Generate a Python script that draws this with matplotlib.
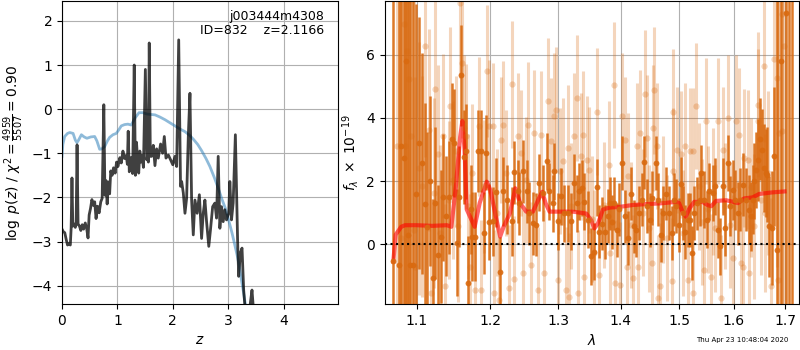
import numpy as np
import matplotlib
matplotlib.use('Agg')
import matplotlib.pyplot as plt
from matplotlib.ticker import NullLocator

# --- left panel: redshift fit ---
z_chi = [0.000, 0.025, 0.050, 0.075, 0.100, 0.125, 0.150, 0.165, 0.180, 0.195,
         0.215, 0.240, 0.255, 0.272, 0.290, 0.315, 0.340, 0.365, 0.390, 0.420,
         0.445, 0.470, 0.490, 0.515, 0.540, 0.565, 0.590, 0.615, 0.640, 0.670,
         0.700, 0.725, 0.755, 0.775, 0.795, 0.815, 0.835, 0.860, 0.880, 0.905,
         0.930, 0.960, 0.985, 1.010, 1.044, 1.070, 1.100, 1.130, 1.160, 1.180,
         1.195, 1.215, 1.245, 1.275, 1.304, 1.325, 1.345, 1.365, 1.385, 1.405,
         1.425, 1.445, 1.470, 1.505, 1.530, 1.550, 1.560, 1.575, 1.595, 1.617,
         1.648, 1.678, 1.708, 1.738, 1.780, 1.816, 1.847, 1.877, 1.920, 1.961,
         2.000, 2.040, 2.070, 2.107, 2.140, 2.160, 2.190, 2.220, 2.250, 2.280,
         2.310, 2.340, 2.370, 2.400, 2.440, 2.480, 2.520, 2.550, 2.580, 2.610,
         2.650, 2.680, 2.720, 2.760, 2.790, 2.820, 2.850, 2.880, 2.910, 2.940,
         2.970, 3.010, 3.030, 3.060, 3.090, 3.130, 3.170, 3.190, 3.220, 3.250,
         3.280, 3.310, 3.360, 3.400, 3.430, 3.460, 3.520]
logp = [-2.72, -2.78, -2.80, -2.95, -3.08, -3.05, -3.08, -2.70, -1.56, -2.65,
        -2.60, -2.68, -2.62, -0.81, -2.60, -2.65, -2.75, -2.62, -2.72, -2.58,
        -2.70, -2.92, -2.40, -2.25, -2.05, -2.18, -2.10, -2.48, -2.20, -2.35,
        -2.10, -2.02, 0.10, -1.95, -1.62, -2.15, -1.65, -1.92, -1.40, -1.50,
        -1.33, -1.45, -1.20, -1.30, -1.10, -1.22, -0.95, -1.12, -1.05, -1.25,
        -0.50, -1.42, -1.10, -1.46, 1.00, -1.50, -0.75, -1.15, -1.45, -0.95,
        -1.20, -1.05, -1.32, 0.90, -1.15, -1.00, -1.20, 1.50, -1.07, -1.07,
        -0.82, -1.28, -0.90, -1.11, -0.79, -1.00, -0.62, -1.11, -1.04, -1.15,
        -1.26, -1.07, -1.30, 1.57, -1.75, -1.64, -1.90, -2.36, -2.02, -0.62,
        0.36, -2.06, -2.85, -2.06, -2.36, -1.94, -2.93, -2.36, -2.06, -2.55,
        -3.11, -2.74, -2.21, -2.13, -2.47, -1.07, -2.70, -2.21, -2.55, -2.28,
        -2.51, -2.36, -1.64, -2.51, -2.13, -0.58, -2.96, -3.79, -3.26, -3.15,
        -4.10, -4.60, -5.00, -4.40, -4.10, -4.60, -5.50]

z_prior = [0.000, 0.015, 0.048, 0.100, 0.140, 0.200, 0.240, 0.270, 0.300, 0.350,
           0.400, 0.450, 0.520, 0.590, 0.630, 0.680, 0.720, 0.770, 0.820, 0.860,
           0.920, 0.980, 1.030, 1.070, 1.130, 1.190, 1.250, 1.320, 1.390, 1.460,
           1.530, 1.600, 1.680, 1.770, 1.860, 1.950, 2.040, 2.130, 2.220, 2.300,
           2.370, 2.450, 2.520, 2.600, 2.670, 2.750, 2.820, 2.890, 2.950, 3.010,
           3.070, 3.120, 3.160, 3.200, 3.230, 3.270, 3.310, 3.350, 3.400]
prior = [-1.07, -0.80, -0.62, -0.55, -0.53, -0.55, -0.70, -0.76, -0.70, -0.58,
         -0.63, -0.66, -0.63, -0.62, -0.72, -0.91, -0.90, -0.85, -0.72, -0.64,
         -0.58, -0.55, -0.46, -0.38, -0.35, -0.34, -0.36, -0.20, -0.08, -0.08,
         -0.11, -0.12, -0.13, -0.18, -0.24, -0.31, -0.38, -0.45, -0.51, -0.59,
         -0.68, -0.80, -0.94, -1.12, -1.30, -1.55, -1.79, -2.05, -2.25, -2.52,
         -2.81, -3.08, -3.30, -3.55, -3.80, -4.10, -4.42, -4.80, -5.30]

# --- right panel: spectrum ---
dark_wave = [1.0701, 1.0770, 1.0800, 1.0830, 1.0860, 1.0890, 1.0910, 1.0950, 1.0990, 1.1034,
             1.1065, 1.1108, 1.1139, 1.1175, 1.1209, 1.1240, 1.1275, 1.1315, 1.1351, 1.1390,
             1.1432, 1.1472, 1.1499, 1.1531, 1.1560, 1.1590, 1.1631, 1.1658, 1.1690, 1.1723,
             1.1750, 1.1783, 1.1824, 1.1870, 1.1908, 1.1946, 1.1984, 1.2036, 1.2083, 1.2145,
             1.2188, 1.2240, 1.2308, 1.2348, 1.2396, 1.2420, 1.2469, 1.2532, 1.2568, 1.2617,
             1.2666, 1.2717, 1.2767, 1.2831, 1.2868, 1.2918, 1.2944, 1.3005, 1.3045, 1.3097,
             1.3149, 1.3200, 1.3242, 1.3293, 1.3331, 1.3368, 1.3410, 1.3462, 1.3515, 1.3569,
             1.3611, 1.3650, 1.3700, 1.3746, 1.3790, 1.3828, 1.3860, 1.3893, 1.3936, 1.3975,
             1.4018, 1.4074, 1.4118, 1.4168, 1.4224, 1.4258, 1.4314, 1.4353, 1.4398, 1.4438,
             1.4496, 1.4523, 1.4592, 1.4638, 1.4678, 1.4725, 1.4772, 1.4829, 1.4870, 1.4912,
             1.4947, 1.4990, 1.5028, 1.5063, 1.5106, 1.5152, 1.5195, 1.5224, 1.5273, 1.5327,
             1.5376, 1.5394, 1.5454, 1.5496, 1.5545, 1.5606, 1.5656, 1.5698, 1.5743, 1.5791,
             1.5842, 1.5885, 1.5930, 1.5979, 1.6030, 1.6073, 1.6119, 1.6168, 1.6233, 1.6283,
             1.6329, 1.6360, 1.6393, 1.6426, 1.6476, 1.6509, 1.6542, 1.6574, 1.6621, 1.6652,
             1.6685, 1.6739, 1.6784, 1.6850, 1.6917, 1.7030, 1.7084, 1.7139]
dark_flux = [-0.53, -0.65, 3.10, 2.73, 5.80, 0.30, -0.65, -0.67, 1.60, 3.20,
             2.56, 1.27, 0.55, 2.00, -1.06, 1.30, -0.34, 0.24, 1.48, 0.90,
             1.48, 3.32, 3.20, 0.05, 1.50, 5.35, 2.76, 2.94, -1.23, 1.10,
             0.24, 0.24, 2.94, 2.94, 0.34, 2.90, 0.69, 0.72, 1.64, -0.87,
             1.67, 1.41, 0.72, 2.28, 1.67, 1.30, 2.31, 1.67, 0.98, 0.66,
             0.61, 1.94, 1.62, 2.63, 1.67, 1.30, 2.31, 0.72, 1.51, 0.98,
             0.98, 0.72, 1.94, 1.30, 1.67, 1.78, 1.35, 0.77, -0.39, -0.24,
             1.80, 0.40, 0.65, 0.39, 0.90, 1.29, 0.70, 1.29, 0.45, 1.10,
             2.57, 0.88, 0.19, 1.60, 0.56, 0.45, 0.98, 1.41, 2.59, 1.20,
             0.77, 1.46, 2.57, 1.41, 0.30, 0.98, 1.60, 0.98, 0.35, 1.41,
             1.20, 0.60, 1.91, 0.98, 0.39, 0.77, 0.77, -0.29, 0.98, 1.29,
             1.41, 2.25, 1.41, 0.77, 1.67, 1.62, 1.83, 0.45, -0.07, 1.83,
             0.51, 2.57, 1.20, 1.72, 1.41, 0.98, 1.41, 1.88, 1.41, 1.09,
             0.88, 1.41, 1.99, 2.36, 2.68, 3.33, 2.99, 2.41, 2.25, 2.20,
             0.56, 0.51, 2.78, -0.20, 5.80, 7.31, 9.50, -4.00]
dark_err = [12, 12, 12, 12, 12, 12, 10, 9, 6, 4.0,
            3.5, 3.2, 3.0, 2.7, 2.5, 2.4, 2.2, 2.1, 2.0, 1.9,
            1.8, 1.8, 1.7, 1.7, 1.6, 1.6, 1.5, 1.5, 1.5, 1.4,
            1.4, 1.4, 1.3, 1.3, 1.3, 1.2, 1.2, 1.1, 1.1, 1.1,
            1.1, 1.1, 1.1, 1.0, 1.0, 1.0, 1.0, 1.0, 1.0, 1.0,
            1.0, 0.9, 0.9, 0.9, 0.9, 0.9, 0.9, 0.9, 0.9, 0.9,
            0.9, 0.9, 0.9, 0.9, 0.9, 0.9, 0.9, 0.9, 0.9, 0.9,
            0.9, 0.85, 0.85, 0.85, 0.85, 0.85, 0.85, 0.85, 0.85, 0.85,
            0.85, 0.85, 0.85, 0.85, 0.85, 0.85, 0.85, 0.85, 0.85, 0.85,
            0.85, 0.85, 0.85, 0.85, 0.85, 0.85, 0.85, 0.85, 0.85, 0.85,
            0.85, 0.85, 0.85, 0.85, 0.85, 0.85, 0.85, 0.85, 0.85, 0.85,
            0.85, 0.9, 0.9, 0.9, 0.9, 0.9, 0.9, 0.9, 0.9, 0.9,
            0.9, 0.9, 0.95, 0.95, 0.95, 1.0, 1.0, 1.0, 1.0, 1.1,
            1.1, 1.1, 1.2, 1.2, 1.3, 1.3, 1.3, 1.4, 1.4, 1.5,
            1.6, 1.8, 2.2, 12, 12, 12, 12, 12]

light_wave = [1.0750, 1.0800, 1.0832, 1.0845, 1.0875, 1.0896, 1.0931, 1.0961, 1.0982, 1.1030,
              1.1069, 1.1113, 1.1156, 1.1191, 1.1222, 1.1244, 1.1280, 1.1311, 1.1347, 1.1378,
              1.1423, 1.1445, 1.1477, 1.1522, 1.1549, 1.1581, 1.1603, 1.1627, 1.1659, 1.1686,
              1.1718, 1.1741, 1.1787, 1.1834, 1.1871, 1.1904, 1.1951, 1.1984, 1.2036, 1.2059,
              1.2100, 1.2130, 1.2154, 1.2178, 1.2226, 1.2274, 1.2308, 1.2337, 1.2396, 1.2444,
              1.2469, 1.2518, 1.2553, 1.2592, 1.2642, 1.2691, 1.2741, 1.2792, 1.2842, 1.2893,
              1.2943, 1.2969, 1.2995, 1.3035, 1.3071, 1.3123, 1.3149, 1.3174, 1.3200, 1.3242,
              1.3294, 1.3315, 1.3357, 1.3383, 1.3409, 1.3452, 1.3489, 1.3530, 1.3569, 1.3611,
              1.3638, 1.3719, 1.3800, 1.3827, 1.3892, 1.3909, 1.3991, 1.4019, 1.4074, 1.4102,
              1.4129, 1.4170, 1.4213, 1.4269, 1.4297, 1.4325, 1.4370, 1.4410, 1.4438, 1.4480,
              1.4524, 1.4552, 1.4569, 1.4609, 1.4638, 1.4667, 1.4725, 1.4790, 1.4870, 1.4887,
              1.4899, 1.4958, 1.5029, 1.5076, 1.5106, 1.5165, 1.5195, 1.5243, 1.5255, 1.5303,
              1.5363, 1.5420, 1.5454, 1.5484, 1.5530, 1.5576, 1.5606, 1.5650, 1.5699, 1.5760,
              1.5791, 1.5840, 1.5885, 1.5930, 1.5978, 1.6041, 1.6105, 1.6136, 1.6168, 1.6200,
              1.6264, 1.6283, 1.6340, 1.6392, 1.6457, 1.6476, 1.6522, 1.6574, 1.6610, 1.6653,
              1.6718, 1.6784, 1.6831, 1.6870, 1.6884, 1.6937, 1.6950, 1.6984]
light_flux = [3.10, 0.20, 6.96, 3.10, 6.12, 5.22, 3.42, 0.45, -0.71, 2.40,
              1.83, 6.27, 3.63, -1.56, 1.62, 4.90, 2.87, 0.35, 3.42, -1.34,
              1.41, 4.37, 2.04, 2.94, 0.56, 7.65, 5.75, 3.68, 3.42, 1.20,
              -0.71, 2.25, -1.45, 3.73, -1.45, 1.83, 5.48, 3.73, 3.73, -1.56,
              1.00, -1.77, 3.31, 3.79, 2.25, -1.40, 5.06, -1.11, 3.42, 2.89,
              -0.92, 2.04, 3.76, -0.66, 3.52, -1.45, 3.47, -0.92, 4.53, 3.26,
              4.05, 4.26, -1.13, 2.31, 2.62, -1.45, 3.05, -1.66, 1.20, 3.42,
              4.63, -1.56, 2.78, 3.47, -1.03, 2.68, 2.36, 0.80, -0.29, 4.20,
              -0.97, 1.25, 2.52, -0.29, 5.03, -1.24, -1.29, 4.05, 3.31, -0.71,
              2.15, 0.60, -1.08, 3.10, -0.71, 3.52, 1.00, 4.77, 3.36, 0.50,
              -0.60, 3.68, 4.87, 3.10, -1.71, -1.34, 1.41, 0.20, -1.18, 4.19,
              2.31, 2.99, 2.84, 0.35, 3.10, -1.13, 2.94, 2.94, -1.56, 4.37,
              1.83, 0.70, -0.82, 3.89, 1.10, -1.03, 1.67, 0.50, 3.89, -1.71,
              2.99, 1.20, 4.00, 0.60, -0.44, 3.89, 3.47, -0.60, -0.71, 2.73,
              2.68, -0.92, 1.80, 0.56, 4.42, 3.89, 1.41, 5.64, 1.00, 2.25,
              -1.34, 5.85, 5.27, -1.13, 3.52, 7.28, 3.57, 6.27]
light_err = [12, 12, 12, 12, 12, 12, 10, 8, 6, 4,
             3.5, 3.5, 3.2, 3.0, 3.0, 3.0, 2.8, 2.8, 2.6, 2.6,
             2.5, 2.5, 2.5, 2.4, 2.4, 2.4, 2.4, 2.3, 2.3, 2.3,
             2.3, 2.2, 2.2, 2.2, 2.2, 2.1, 2.1, 2.1, 2.0, 2.0,
             2.0, 2.0, 2.0, 2.0, 2.0, 2.0, 2.0, 2.0, 2.0, 2.0,
             2.0, 2.0, 2.0, 2.0, 2.0, 2.0, 2.0, 2.0, 2.0, 2.0,
             2.0, 2.0, 2.0, 2.0, 2.0, 2.0, 2.0, 2.0, 2.0, 2.0,
             2.0, 2.0, 2.0, 2.0, 2.0, 2.0, 2.0, 2.0, 2.0, 2.0,
             2.0, 2.0, 2.0, 2.0, 2.0, 2.0, 2.0, 2.0, 2.0, 2.0,
             2.0, 2.0, 2.0, 2.0, 2.0, 2.0, 2.0, 2.0, 2.0, 2.0,
             2.0, 2.0, 2.0, 2.0, 2.0, 2.0, 2.0, 2.0, 2.0, 2.0,
             2.0, 2.0, 2.0, 2.0, 2.0, 2.0, 2.0, 2.0, 2.0, 2.0,
             2.0, 2.0, 2.0, 2.0, 2.0, 2.0, 2.0, 2.0, 2.0, 2.0,
             2.0, 2.0, 2.0, 2.0, 2.0, 2.1, 2.1, 2.1, 2.1, 2.2,
             2.2, 2.2, 2.2, 2.3, 2.3, 2.3, 2.4, 2.4, 2.5, 2.6,
             2.8, 3.5, 6, 12, 12, 12, 12, 12]

model_wave = [1.0700, 1.0730, 1.0800, 1.0850, 1.1000, 1.1200, 1.1400, 1.1460, 1.1520, 1.1580,
              1.1610, 1.1640, 1.1670, 1.1730, 1.1780, 1.1850, 1.1950, 1.2000, 1.2070, 1.2140,
              1.2190, 1.2280, 1.2360, 1.2430, 1.2520, 1.2620, 1.2710, 1.2760, 1.2810, 1.2870,
              1.3020, 1.3230, 1.3440, 1.3520, 1.3570, 1.3630, 1.3710, 1.3820, 1.3980, 1.4200,
              1.4430, 1.4660, 1.4950, 1.5000, 1.5060, 1.5120, 1.5180, 1.5270, 1.5420, 1.5510,
              1.5580, 1.5670, 1.5860, 1.5990, 1.6080, 1.6200, 1.6360, 1.6490, 1.6750, 1.6990]
model_flux = [-0.55, 0.30, 0.55, 0.60, 0.60, 0.58, 0.60, 0.55, 1.80, 3.40,
              3.90, 3.00, 1.10, 0.80, 0.55, 1.30, 1.98, 1.72, 0.97, 0.24,
              0.55, 0.97, 1.77, 1.30, 1.03, 1.03, 1.45, 1.66, 1.30, 1.03,
              1.03, 1.03, 0.97, 0.76, 0.50, 0.66, 1.10, 1.16, 1.18, 1.24,
              1.27, 1.29, 1.34, 1.30, 1.03, 0.87, 1.12, 1.34, 1.34, 1.24,
              1.20, 1.37, 1.39, 1.34, 1.30, 1.45, 1.48, 1.59, 1.64, 1.67]

wave_ticks = [1.1, 1.2, 1.3, 1.4, 1.5, 1.6, 1.7]

orange = '#d96a10'

fig = plt.figure(figsize=(8, 3.5), dpi=100)

# left: p(z)
ax = fig.add_axes([0.0775, 0.131, 0.3455, 0.866])
ax.plot(z_prior, prior, color='tab:blue', alpha=0.5, lw=2)
ax.plot(z_chi, logp, color='k', alpha=0.75, lw=2)
ax.set_xlim(0, 4.99)
ax.set_ylim(-4.42, 2.45)
ax.set_xticks([0, 1, 2, 3, 4])
ax.grid(True)
ax.set_xlabel(r'$z$')
ax.set_ylabel(r'$\log\ p(z)$' + ' / ' + r'$\chi^2=\frac{4959}{5507}=0.90$')
ax.text(0.95, 0.97, 'j003444m4308\nID=832    z=2.1166', transform=ax.transAxes,
        ha='right', va='top', fontsize=9, linespacing=1.1)

# right: spectrum
ax2 = fig.add_axes([0.481, 0.131, 0.5175, 0.866])
ax2.errorbar(light_wave, light_flux, light_err, color=orange, alpha=0.28,
             marker='o', ms=4.5, linestyle='None', elinewidth=2.2, mec='none')
ax2.errorbar(dark_wave, dark_flux, dark_err, color=orange, alpha=0.9,
             marker='o', ms=4.2, linestyle='None', elinewidth=1.8, mec='none')
ax2.plot(model_wave, model_flux, color='r', alpha=0.6, lw=3)
ax2.axhline(0, color='k', linestyle=':', lw=1.5)

ax2.set_xscale('log')
ax2.set_xlim(1.0593, 1.728)
ax2.set_ylim(-1.9, 7.7)
ax2.set_xticks(wave_ticks)
ax2.set_xticklabels([f'{t:.1f}' for t in wave_ticks])
ax2.xaxis.set_minor_locator(NullLocator())
ax2.set_yticks([0, 2, 4, 6])
ax2.grid(True)
ax2.set_xlabel(r'$\lambda$')
ax2.set_ylabel(r'$f_\lambda\ \times\ 10^{-19}$')

fig.text(0.928, 0.029, 'Thu Apr 23 10:48:04 2020', ha='center', va='center', fontsize=5)

fig.savefig('out.png', dpi=100)
